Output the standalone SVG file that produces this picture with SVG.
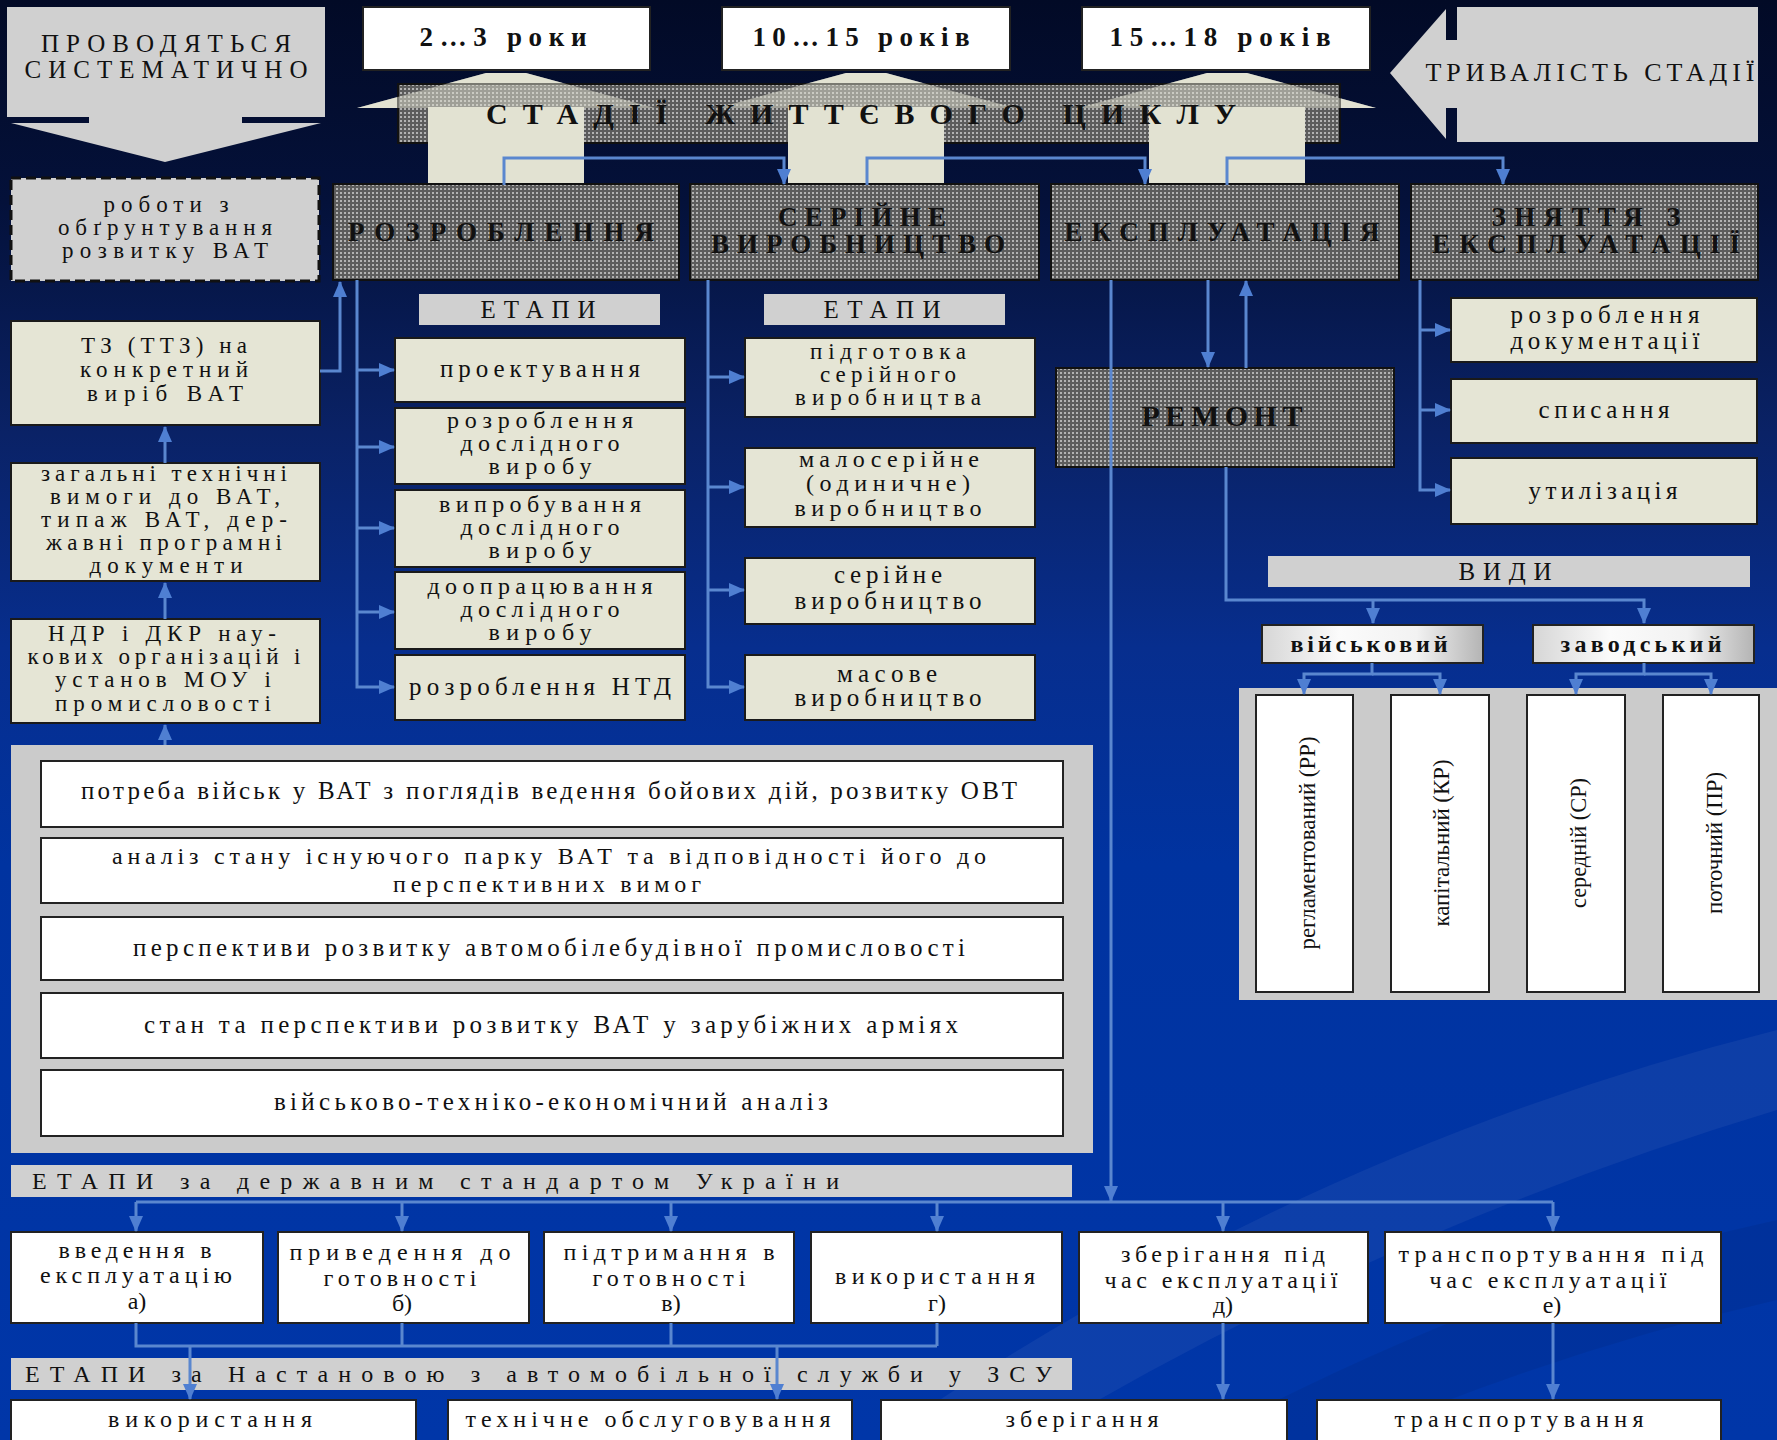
<svg xmlns="http://www.w3.org/2000/svg" width="1777" height="1440" viewBox="0 0 1777 1440">
<defs>
<linearGradient id="bg" x1="0" y1="0" x2="0" y2="1">
<stop offset="0" stop-color="#020a26"/>
<stop offset="0.14" stop-color="#04113a"/>
<stop offset="0.3" stop-color="#0a2266"/>
<stop offset="0.45" stop-color="#072e8e"/>
<stop offset="0.6" stop-color="#0033a0"/>
<stop offset="1" stop-color="#0036a8"/>
</linearGradient>
<linearGradient id="vg" x1="0" y1="0" x2="1" y2="0">
<stop offset="0" stop-color="#d6d6d6"/>
<stop offset="0.35" stop-color="#fbfbfb"/>
<stop offset="0.7" stop-color="#f2f2f2"/>
<stop offset="1" stop-color="#b4b4b4"/>
</linearGradient>
<pattern id="dots" width="4" height="4" patternUnits="userSpaceOnUse"><rect width="4" height="4" fill="#5c5c5c"/><rect width="2" height="2" fill="#b2b2b2"/></pattern>
<marker id="ah" viewBox="0 0 16 14" refX="15" refY="7" markerWidth="16" markerHeight="14" markerUnits="userSpaceOnUse" orient="auto"><path d="M0,0 L16,7 L0,14 Z" fill="#4f7fd2"/></marker>
<style>
.beige{fill:#e5e5d5;stroke:#1a1a1a;stroke-width:2}
.grey{fill:#d0d0d0}
.panel{fill:#cbcbcb}
.white{fill:#ffffff;stroke:#222;stroke-width:2}
.pat{fill:url(#dots);stroke:#111;stroke-width:2}
.arr{fill:#e2e2d2}
.c{fill:none;stroke:#5a87cf;stroke-width:3}
.a{marker-end:url(#ah)}
text{font-family:"Liberation Serif","Times New Roman",serif;fill:#111;text-anchor:middle}
.st{text-anchor:start}
.b{font-weight:bold}
.f22{font-size:22px}
.f23{font-size:23px}
.f24{font-size:24px}
.f25{font-size:25px}
.f26{font-size:26px}
.f27{font-size:27px}
.f30{font-size:30px}
</style>
</defs>

<g id="background">
<rect width="1777" height="1440" fill="url(#bg)"/>
<path d="M880,1440 Q1300,1150 1777,1030 L1777,1110 Q1380,1230 1030,1440 Z" fill="#ffffff" opacity="0.05"/>
<path d="M1200,1440 Q1500,1280 1777,1220 L1777,1300 Q1560,1350 1350,1440 Z" fill="#000000" opacity="0.06"/>
</g>

<g id="n-systematic">
<polygon points="7,7 325,7 325,117 242,117 242,123 321,123 165,162 11,123 89,123 89,117 7,117" class="grey"/>
<text class="f25" x="166" y="52" textLength="250" lengthAdjust="spacing">ПРОВОДЯТЬСЯ</text>
<text class="f25" x="166" y="78" textLength="283" lengthAdjust="spacing">СИСТЕМАТИЧНО</text>
</g>

<g id="n-dur1"><rect x="363" y="7" width="287" height="63" class="white"/><text class="f27 b" x="503" y="46" textLength="167" lengthAdjust="spacing">2…3 роки</text></g>
<g id="n-dur2"><rect x="722" y="7" width="288" height="63" class="white"/><text class="f27 b" x="861" y="46" textLength="217" lengthAdjust="spacing">10…15 років</text></g>
<g id="n-dur3"><rect x="1082" y="7" width="288" height="63" class="white"/><text class="f27 b" x="1220" y="46" textLength="221" lengthAdjust="spacing">15…18 років</text></g>

<g id="n-duration">
<polygon points="1390,73 1446,9 1446,40 1457,40 1457,7 1758,7 1758,142 1457,142 1457,108 1446,108 1446,139" class="grey"/>
<text class="f26" x="1590" y="81" textLength="329" lengthAdjust="spacing">ТРИВАЛІСТЬ СТАДІЇ</text>
</g>

<g id="n-banner">
<polygon class="arr" points="357,108 486,73 526,73 655,108"/>
<polygon class="arr" points="717,108 846,73 886,73 1015,108"/>
<polygon class="arr" points="1078,108 1207,73 1247,73 1376,108"/>
<rect x="398" y="84" width="942" height="59" class="pat"/>
<polygon class="arr" opacity="0.5" points="357,108 486,73 526,73 655,108"/>
<polygon class="arr" opacity="0.5" points="717,108 846,73 886,73 1015,108"/>
<polygon class="arr" opacity="0.5" points="1078,108 1207,73 1247,73 1376,108"/>
<rect class="arr" x="428" y="107" width="156" height="78"/>
<rect class="arr" x="788" y="107" width="156" height="78"/>
<rect class="arr" x="1149" y="107" width="156" height="78"/>
<text class="f30 b" x="861" y="124" textLength="750" lengthAdjust="spacing">СТАДІЇ ЖИТТЄВОГО ЦИКЛУ</text>
</g>

<g id="n-rozroblennia"><rect x="333" y="184" width="346" height="96" class="pat"/><text class="f27 b" x="501" y="241" textLength="306" lengthAdjust="spacing">РОЗРОБЛЕННЯ</text></g>
<g id="n-seriine"><rect x="690" y="184" width="349" height="96" class="pat"/><text class="f27 b" x="862" y="226" textLength="168" lengthAdjust="spacing">СЕРІЙНЕ</text><text class="f27 b" x="858" y="253" textLength="294" lengthAdjust="spacing">ВИРОБНИЦТВО</text></g>
<g id="n-ekspluatatsiia"><rect x="1051" y="184" width="348" height="96" class="pat"/><text class="f27 b" x="1222" y="241" textLength="315" lengthAdjust="spacing">ЕКСПЛУАТАЦІЯ</text></g>
<g id="n-zniattia"><rect x="1411" y="184" width="347" height="96" class="pat"/><text class="f27 b" x="1586" y="226" textLength="189" lengthAdjust="spacing">ЗНЯТТЯ З</text><text class="f27 b" x="1586" y="253" textLength="308" lengthAdjust="spacing">ЕКСПЛУАТАЦІЇ</text></g>

<g id="n-roboty">
<rect x="11" y="178" width="308" height="103" fill="#d0d0d0" stroke="#111" stroke-width="3" stroke-dasharray="10 5"/>
<text class="f23" x="166" y="212" textLength="125" lengthAdjust="spacing">роботи з</text>
<text class="f23" x="165" y="235" textLength="214" lengthAdjust="spacing">обґрунтування</text>
<text class="f23" x="165" y="258" textLength="206" lengthAdjust="spacing">розвитку ВАТ</text>
</g>
<g id="n-tz">
<rect x="11" y="321" width="309" height="104" class="beige"/>
<text class="f23" x="164" y="353" textLength="166" lengthAdjust="spacing">ТЗ (ТТЗ) на</text>
<text class="f23" x="164" y="377" textLength="168" lengthAdjust="spacing">конкретний</text>
<text class="f23" x="165" y="401" textLength="156" lengthAdjust="spacing">виріб ВАТ</text>
</g>
<g id="n-zahalni">
<rect x="11" y="463" width="309" height="118" class="beige"/>
<text class="f23" x="164" y="481" textLength="246" lengthAdjust="spacing">загальні технічні</text>
<text class="f23" x="165" y="504" textLength="230" lengthAdjust="spacing">вимоги до ВАТ,</text>
<text class="f23" x="164" y="527" textLength="246" lengthAdjust="spacing">типаж ВАТ, дер-</text>
<text class="f23" x="164" y="550" textLength="236" lengthAdjust="spacing">жавні програмні</text>
<text class="f23" x="166" y="573" textLength="153" lengthAdjust="spacing">документи</text>
</g>
<g id="n-ndr">
<rect x="11" y="619" width="309" height="104" class="beige"/>
<text class="f23" x="162" y="641" textLength="228" lengthAdjust="spacing">НДР і ДКР нау-</text>
<text class="f23" x="164" y="664" textLength="273" lengthAdjust="spacing">кових організацій і</text>
<text class="f23" x="163" y="687" textLength="216" lengthAdjust="spacing">установ МОУ і</text>
<text class="f23" x="163" y="711" textLength="216" lengthAdjust="spacing">промисловості</text>
</g>

<g id="n-etapy1"><rect x="419" y="294" width="241" height="31" class="grey"/><text class="f25" x="538" y="318" textLength="115" lengthAdjust="spacing">ЕТАПИ</text></g>
<g id="n-proektuvannia"><rect x="395" y="338" width="290" height="64" class="beige"/><text class="f25" x="540" y="377" textLength="200" lengthAdjust="spacing">проектування</text></g>
<g id="n-rozr-doslid"><rect x="395" y="408" width="290" height="76" class="beige"/><text class="f24" x="540" y="428" textLength="186" lengthAdjust="spacing">розроблення</text><text class="f24" x="540" y="451" textLength="159" lengthAdjust="spacing">дослідного</text><text class="f24" x="540" y="474" textLength="103" lengthAdjust="spacing">виробу</text></g>
<g id="n-vyprob"><rect x="395" y="490" width="290" height="77" class="beige"/><text class="f24" x="540" y="512" textLength="202" lengthAdjust="spacing">випробування</text><text class="f24" x="540" y="535" textLength="159" lengthAdjust="spacing">дослідного</text><text class="f24" x="540" y="558" textLength="103" lengthAdjust="spacing">виробу</text></g>
<g id="n-doopr"><rect x="395" y="572" width="290" height="77" class="beige"/><text class="f24" x="540" y="594" textLength="225" lengthAdjust="spacing">доопрацювання</text><text class="f24" x="540" y="617" textLength="159" lengthAdjust="spacing">дослідного</text><text class="f24" x="540" y="640" textLength="103" lengthAdjust="spacing">виробу</text></g>
<g id="n-ntd"><rect x="395" y="655" width="290" height="65" class="beige"/><text class="f25" x="540" y="695" textLength="262" lengthAdjust="spacing">розроблення НТД</text></g>

<g id="n-etapy2"><rect x="764" y="294" width="241" height="31" class="grey"/><text class="f25" x="882" y="318" textLength="117" lengthAdjust="spacing">ЕТАПИ</text></g>
<g id="n-pidhotovka"><rect x="745" y="338" width="290" height="79" class="beige"/><text class="f23" x="888" y="359" textLength="156" lengthAdjust="spacing">підготовка</text><text class="f23" x="888" y="382" textLength="136" lengthAdjust="spacing">серійного</text><text class="f23" x="888" y="405" textLength="186" lengthAdjust="spacing">виробництва</text></g>
<g id="n-maloser"><rect x="745" y="448" width="290" height="79" class="beige"/><text class="f24" x="889" y="467" textLength="180" lengthAdjust="spacing">малосерійне</text><text class="f24" x="888" y="491" textLength="164" lengthAdjust="spacing">(одиничне)</text><text class="f24" x="888" y="516" textLength="187" lengthAdjust="spacing">виробництво</text></g>
<g id="n-serviro"><rect x="745" y="558" width="290" height="66" class="beige"/><text class="f25" x="888" y="583" textLength="108" lengthAdjust="spacing">серійне</text><text class="f25" x="888" y="609" textLength="187" lengthAdjust="spacing">виробництво</text></g>
<g id="n-masove"><rect x="745" y="655" width="290" height="65" class="beige"/><text class="f25" x="887" y="682" textLength="100" lengthAdjust="spacing">масове</text><text class="f25" x="888" y="706" textLength="187" lengthAdjust="spacing">виробництво</text></g>

<g id="n-dokum"><rect x="1451" y="298" width="306" height="64" class="beige"/><text class="f25" x="1605" y="323" textLength="189" lengthAdjust="spacing">розроблення</text><text class="f25" x="1605" y="349" textLength="189" lengthAdjust="spacing">документації</text></g>
<g id="n-spysannia"><rect x="1451" y="379" width="306" height="64" class="beige"/><text class="f25" x="1604" y="418" textLength="131" lengthAdjust="spacing">списання</text></g>
<g id="n-utyliz"><rect x="1451" y="458" width="306" height="66" class="beige"/><text class="f25" x="1603" y="499" textLength="149" lengthAdjust="spacing">утилізація</text></g>

<g id="n-remont"><rect x="1056" y="368" width="338" height="99" class="pat"/><text class="f30 b" x="1222" y="426" textLength="161" lengthAdjust="spacing">РЕМОНТ</text></g>

<g id="n-vydy"><rect x="1268" y="556" width="482" height="31" class="grey"/><text class="f25" x="1505" y="580" textLength="93" lengthAdjust="spacing">ВИДИ</text></g>
<g id="n-viiskovyi"><rect x="1262" y="625" width="221" height="38" fill="url(#vg)" stroke="#222" stroke-width="2"/><text class="f24 b" x="1369" y="652" textLength="157" lengthAdjust="spacing">військовий</text></g>
<g id="n-zavodskyi"><rect x="1533" y="625" width="221" height="38" fill="url(#vg)" stroke="#222" stroke-width="2"/><text class="f24 b" x="1641" y="652" textLength="161" lengthAdjust="spacing">заводський</text></g>

<g id="n-vydy-panel">
<rect x="1239" y="688" width="538" height="312" class="panel"/>
</g>
<g id="n-rr"><rect x="1256" y="695" width="97" height="297" class="white"/><text class="f23" x="1315" y="843" transform="rotate(-90 1315 843)" textLength="213" lengthAdjust="spacingAndGlyphs">регламентований (РР)</text></g>
<g id="n-kr"><rect x="1391" y="695" width="98" height="297" class="white"/><text class="f23" x="1449" y="843" transform="rotate(-90 1449 843)" textLength="167" lengthAdjust="spacingAndGlyphs">капітальний (КР)</text></g>
<g id="n-sr"><rect x="1527" y="695" width="98" height="297" class="white"/><text class="f23" x="1586" y="843" transform="rotate(-90 1586 843)" textLength="130" lengthAdjust="spacingAndGlyphs">середній (СР)</text></g>
<g id="n-pr"><rect x="1663" y="695" width="96" height="297" class="white"/><text class="f23" x="1722" y="843" transform="rotate(-90 1722 843)" textLength="142" lengthAdjust="spacingAndGlyphs">поточний (ПР)</text></g>

<g id="n-factors">
<rect x="11" y="745" width="1082" height="408" class="panel"/>
</g>
<g id="n-f1"><rect x="41" y="761" width="1022" height="66" class="white"/><text class="f25" x="549" y="799" textLength="936" lengthAdjust="spacing">потреба військ у ВАТ з поглядів ведення бойових дій, розвитку ОВТ</text></g>
<g id="n-f2"><rect x="41" y="838" width="1022" height="65" class="white"/><text class="f24" x="549" y="864" textLength="874" lengthAdjust="spacing">аналіз стану існуючого парку ВАТ та відповідності його до</text><text class="f24" x="547" y="892" textLength="308" lengthAdjust="spacing">перспективних вимог</text></g>
<g id="n-f3"><rect x="41" y="917" width="1022" height="63" class="white"/><text class="f25" x="549" y="956" textLength="832" lengthAdjust="spacing">перспективи розвитку автомобілебудівної промисловості</text></g>
<g id="n-f4"><rect x="41" y="993" width="1022" height="65" class="white"/><text class="f25" x="551" y="1033" textLength="814" lengthAdjust="spacing">стан та перспективи розвитку ВАТ у зарубіжних арміях</text></g>
<g id="n-f5"><rect x="41" y="1070" width="1022" height="66" class="white"/><text class="f25" x="551" y="1110" textLength="554" lengthAdjust="spacing">військово-техніко-економічний аналіз</text></g>

<g id="n-dstu"><rect x="11" y="1165" width="1061" height="32" class="grey"/><text class="f24 st" x="32" y="1189" textLength="807" lengthAdjust="spacing">ЕТАПИ за державним стандартом України</text></g>

<g id="n-a"><rect x="11" y="1232" width="252" height="91" class="white"/><text class="f24" x="135" y="1258" textLength="153" lengthAdjust="spacing">введення в</text><text class="f24" x="136" y="1283" textLength="192" lengthAdjust="spacing">експлуатацію</text><text class="f24" x="137" y="1309">а)</text></g>
<g id="n-b"><rect x="278" y="1232" width="251" height="91" class="white"/><text class="f24" x="400" y="1260" textLength="221" lengthAdjust="spacing">приведення до</text><text class="f24" x="400" y="1286" textLength="153" lengthAdjust="spacing">готовності</text><text class="f24" x="402" y="1311">б)</text></g>
<g id="n-v"><rect x="544" y="1232" width="250" height="91" class="white"/><text class="f24" x="669" y="1260" textLength="211" lengthAdjust="spacing">підтримання в</text><text class="f24" x="669" y="1286" textLength="153" lengthAdjust="spacing">готовності</text><text class="f24" x="671" y="1311">в)</text></g>
<g id="n-h"><rect x="811" y="1232" width="251" height="91" class="white"/><text class="f24" x="935" y="1284" textLength="200" lengthAdjust="spacing">використання</text><text class="f24" x="937" y="1311">г)</text></g>
<g id="n-d"><rect x="1079" y="1232" width="289" height="91" class="white"/><text class="f24" x="1223" y="1262" textLength="204" lengthAdjust="spacing">зберігання під</text><text class="f24" x="1221" y="1288" textLength="233" lengthAdjust="spacing">час експлуатації</text><text class="f24" x="1223" y="1313">д)</text></g>
<g id="n-e"><rect x="1385" y="1232" width="336" height="91" class="white"/><text class="f24" x="1551" y="1262" textLength="305" lengthAdjust="spacing">транспортування під</text><text class="f24" x="1548" y="1288" textLength="237" lengthAdjust="spacing">час експлуатації</text><text class="f24" x="1552" y="1313">е)</text></g>

<g id="n-nastanova"><rect x="11" y="1358" width="1061" height="32" class="grey"/><text class="f24 st" x="25" y="1382" textLength="1027" lengthAdjust="spacing">ЕТАПИ за Настановою з автомобільної служби у ЗСУ</text></g>

<g id="n-vykor"><rect x="11" y="1400" width="405" height="48" class="white"/><text class="f24" x="210" y="1427" textLength="204" lengthAdjust="spacing">використання</text></g>
<g id="n-to"><rect x="448" y="1400" width="404" height="48" class="white"/><text class="f24" x="648" y="1427" textLength="365" lengthAdjust="spacing">технічне обслуговування</text></g>
<g id="n-zber"><rect x="881" y="1400" width="406" height="48" class="white"/><text class="f24" x="1082" y="1427" textLength="153" lengthAdjust="spacing">зберігання</text></g>
<g id="n-transp"><rect x="1317" y="1400" width="404" height="48" class="white"/><text class="f24" x="1519" y="1427" textLength="249" lengthAdjust="spacing">транспортування</text></g>

<g id="connectors">
<path class="c a" d="M504,185 V158 H784 V184"/>
<path class="c a" d="M867,185 V158 H1145 V184"/>
<path class="c a" d="M1227,185 V158 H1503 V184"/>
<path class="c a" d="M320,371 H340 V282"/>
<path class="c a" d="M165,463 V427"/>
<path class="c a" d="M165,619 V583"/>
<path class="c a" d="M165,745 V725"/>
<path class="c a" d="M357,280 V687 H394"/>
<path class="c a" d="M357,370 H394"/>
<path class="c a" d="M357,447 H394"/>
<path class="c a" d="M357,528 H394"/>
<path class="c a" d="M357,612 H394"/>
<path class="c a" d="M708,280 V687 H744"/>
<path class="c a" d="M708,377 H744"/>
<path class="c a" d="M708,487 H744"/>
<path class="c a" d="M708,590 H744"/>
<path class="c a" d="M1208,280 V367"/>
<path class="c a" d="M1246,368 V281"/>
<path class="c a" d="M1111,280 V1201"/>
<path class="c a" d="M1226,467 V600 H1644 V623"/>
<path class="c a" d="M1373,600 V623"/>
<path class="c a" d="M1372,663 V674 H1304 V694"/>
<path class="c a" d="M1372,674 H1440 V694"/>
<path class="c a" d="M1644,663 V674 H1576 V694"/>
<path class="c a" d="M1644,674 H1711 V694"/>
<path class="c a" d="M1420,280 V490 H1450"/>
<path class="c a" d="M1420,330 H1450"/>
<path class="c a" d="M1420,410 H1450"/>
<path class="c" d="M136,1202 H1553"/>
<path class="c a" d="M136,1202 V1231"/>
<path class="c a" d="M402,1202 V1231"/>
<path class="c a" d="M671,1202 V1231"/>
<path class="c a" d="M937,1202 V1231"/>
<path class="c a" d="M1223,1202 V1231"/>
<path class="c a" d="M1553,1202 V1231"/>
<path class="c" d="M136,1323 V1346 H937 M402,1323 V1346 M671,1323 V1346 M937,1323 V1346"/>
<path class="c a" d="M190,1346 V1399"/>
<path class="c a" d="M777,1346 V1399"/>
<path class="c a" d="M1223,1323 V1399"/>
<path class="c a" d="M1553,1323 V1399"/>
</g>
</svg>
